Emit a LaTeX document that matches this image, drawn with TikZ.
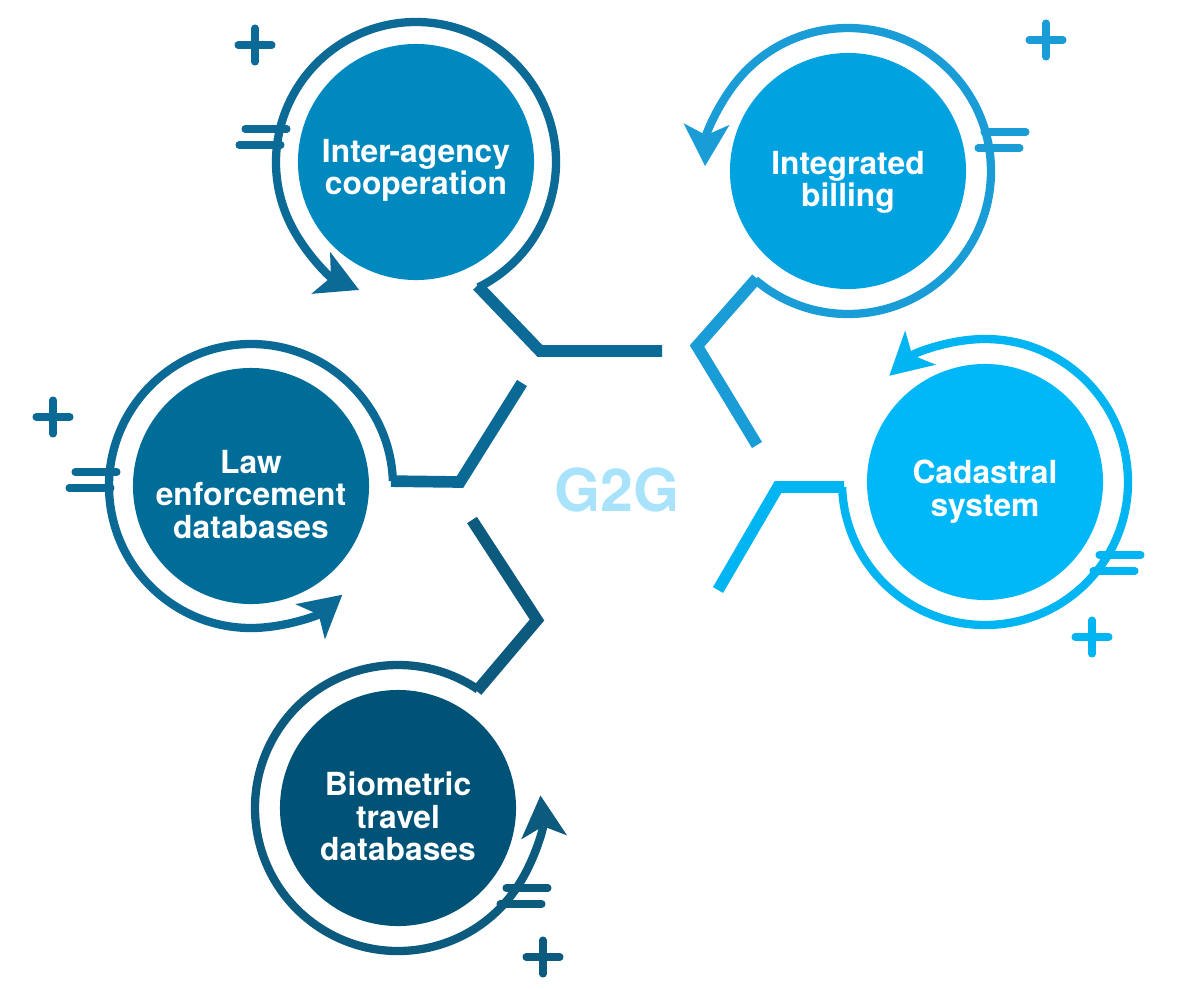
\documentclass[tikz,border=0pt]{standalone}
\usepackage{fontspec}
\setmainfont{TeX Gyre Heros}
\usetikzlibrary{arrows.meta}
\definecolor{sea700} {HTML}{0B6A96}
\definecolor{sea500} {HTML}{0089BF}
\definecolor{sea800} {HTML}{005E8A}
\definecolor{sky600} {HTML}{1A9CD6}
\definecolor{sky500} {HTML}{00A2E0}
\definecolor{sky800} {HTML}{0074A8}
\definecolor{ice500} {HTML}{00B5F1}
\definecolor{ice400} {HTML}{00B7F7}
\definecolor{ice700} {HTML}{0087BF}
\definecolor{ink600} {HTML}{0A6A95}
\definecolor{ink500} {HTML}{006D99}
\definecolor{ink800} {HTML}{004A6A}
\definecolor{deep700}{HTML}{0C5A7D}
\definecolor{deep500}{HTML}{005377}
\definecolor{deep900}{HTML}{002D43}
\definecolor{hub200} {HTML}{A8E2FB}
\pgfdeclareradialshading{iaball}{\pgfpoint{0bp}{0bp}}
  {color(0bp)=(sea500); color(32bp)=(sea500); color(50bp)=(sea800)}
\pgfdeclareradialshading{ibball}{\pgfpoint{0bp}{0bp}}
  {color(0bp)=(sky500); color(32bp)=(sky500); color(50bp)=(sky800)}
\pgfdeclareradialshading{csball}{\pgfpoint{0bp}{0bp}}
  {color(0bp)=(ice400); color(32bp)=(ice400); color(50bp)=(ice700)}
\pgfdeclareradialshading{leball}{\pgfpoint{0bp}{0bp}}
  {color(0bp)=(ink500); color(32bp)=(ink500); color(50bp)=(ink800)}
\pgfdeclareradialshading{btball}{\pgfpoint{0bp}{0bp}}
  {color(0bp)=(deep500); color(30bp)=(deep500); color(50bp)=(deep900)}
\tikzset{
  bubble/.style ={circle, minimum size=5.9cm, inner sep=0pt},
  lbl/.style    ={align=center, text=white, inner sep=0pt,
                  font=\bfseries\fontsize{22.6}{23}\selectfont},
  hub/.style    ={text=hub200, font=\bfseries\fontsize{42}{42}\selectfont},
  ring/.style   ={draw=#1, line width=5.9pt,
                  -{Stealth[length=1.05cm, width=1.15cm, inset=0.28cm,
                            line width=0pt]}},
  link/.style   ={draw=#1, line width=8.3pt},
  signline/.style={line width=5pt, line cap=round},
  pics/plusmark/.style={code={
    \draw[signline] (-17,0) -- (17,0) (0,-17) -- (0,17);}},
  pics/eqmark/.style={code={
    \draw[signline] (-18,-8) -- (24,-8) (-24,8) -- (18,8);}}
}
\begin{document}
\begin{tikzpicture}[x=0.025cm, y=-0.025cm]
\useasboundingbox (0,0) rectangle (1178,988);
% the five topics
\node[bubble, shading=iaball] (ia) at (416,162) {};
\node[bubble, shading=ibball] (ib) at (848,171) {};
\node[bubble, shading=csball] (cs) at (985,482) {};
\node[bubble, shading=leball] (le) at (251,486) {};
\node[bubble, shading=btball] (bt) at (398,808) {};
\node[lbl] (ia-t) at ([yshift=-6pt]ia.center) {Inter-agency\\cooperation};
\node[lbl] (ib-t) at ([yshift=-8pt]ib.center) {Integrated\\billing};
\node[lbl] (cs-t) at ([yshift=-7pt]cs.center) {Cadastral\\system};
\node[lbl] (le-t) at ([yshift=-6pt]le.center) {Law\\enforcement\\databases};
\node[lbl] (bt-t) at ([yshift=-6pt]bt.center) {Biometric\\travel\\databases};
\node[hub] (g2g) at (617,490) {G2G};
% rings round them
\draw[ring=sea700] ([shift={(63.6:140)}]ia.center)
  arc[start angle=63.6, end angle=-246, radius=140];
\draw[ring=sky600] ([shift={(130.4:143)}]ib.center)
  arc[start angle=130.4, end angle=-178, radius=143];
\draw[ring=ice500] ([shift={(178:143)}]cs.center)
  arc[start angle=178, end angle=-132, radius=143];
\draw[ring=ink600] ([shift={(-2:142)}]le.center)
  arc[start angle=-2, end angle=-310, radius=142];
\draw[ring=deep700] ([shift={(-56:143)}]bt.center)
  arc[start angle=-56, end angle=-365, radius=143];
% links towards the hub
\coordinate (ia-a) at ([shift={(63.6:138)}]ia.center);
\coordinate (ia-b) at (540,351);
\coordinate (ia-c) at (662,351);
\coordinate (ib-a) at ([shift={(130.4:141)}]ib.center);
\coordinate (ib-b) at (697,346);
\coordinate (ib-c) at (757,445);
\coordinate (cs-a) at ([shift={(178:141)}]cs.center);
\coordinate (cs-b) at (778,487);
\coordinate (cs-c) at (718,590);
\coordinate (le-a) at ([shift={(-2:140)}]le.center);
\coordinate (le-b) at (460,482);
\coordinate (le-c) at (522,383);
\coordinate (bt-a) at ([shift={(-56:141)}]bt.center);
\coordinate (bt-b) at (537,620);
\coordinate (bt-c) at (472,520);
\draw[link=sea700]  (ia-a) -- (ia-b) -- (ia-c);
\draw[link=sky600]  (ib-a) -- (ib-b) -- (ib-c);
\draw[link=ice500]  (cs-a) -- (cs-b) -- (cs-c);
\draw[link=ink600]  (le-a) -- (le-b) -- (le-c);
\draw[link=deep700] (bt-a) -- (bt-b) -- (bt-c);
% plus and equals signs
\pic[sea700]  at (255,45)   {plusmark};
\pic[sea700]  at (263,137)  {eqmark};
\pic[sky600]  at (1046,40)  {plusmark};
\pic[sky600]  at (1002,140) {eqmark};
\pic[ice500]  at (1092,637) {plusmark};
\pic[ice500]  at (1117,563) {eqmark};
\pic[ink600]  at (53,417)   {plusmark};
\pic[ink600]  at (93,480)   {eqmark};
\pic[deep700] at (543,957)  {plusmark};
\pic[deep700] at (524,896)  {eqmark};
\end{tikzpicture}
\end{document}
